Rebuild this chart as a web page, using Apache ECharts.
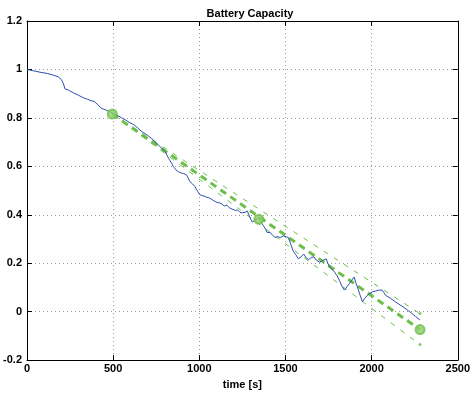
<!DOCTYPE html>
<html>
<head>
<meta charset="utf-8">
<script src="https://cdn.jsdelivr.net/npm/echarts@6/dist/echarts.min.js"></script>
<style>
  html, body { margin: 0; padding: 0; background: #fff; }
  #chart { width: 473px; height: 395px; }
</style>
</head>
<body>
<div id="chart"></div>
<script>
// measured capacity, [time s, capacity]
var capacity = [
  [0,1.0],[40,0.994],[80,0.988],[120,0.983],[150,0.977],[180,0.97],[200,0.958],[212,0.94],[220,0.92],
  [240,0.915],[270,0.903],[300,0.893],[324,0.884],[350,0.877],[372,0.871],[390,0.868],[401,0.864],
  [415,0.852],[430,0.84],[460,0.832],[487,0.823],[520,0.812],[550,0.8],[575,0.79],[592,0.782],
  [620,0.772],[645,0.757],[668,0.742],[690,0.733],[705,0.725],[725,0.714],[745,0.7],[764,0.687],
  [785,0.672],[802,0.66],[822,0.633],[840,0.612],[849,0.599],[865,0.585],[878,0.578],[895,0.572],
  [907,0.571],[926,0.565],[945,0.537],[960,0.528],[974,0.517],[990,0.497],[1002,0.483],[1015,0.48],
  [1031,0.476],[1045,0.472],[1060,0.469],[1075,0.462],[1088,0.456],[1100,0.452],[1117,0.449],
  [1130,0.445],[1145,0.436],[1160,0.44],[1174,0.429],[1183,0.429],[1195,0.422],[1210,0.418],
  [1222,0.42],[1236,0.41],[1250,0.408],[1265,0.41],[1279,0.415],[1293,0.39],[1307,0.37],[1318,0.374],
  [1330,0.38],[1346,0.388],[1358,0.37],[1372,0.355],[1385,0.34],[1393,0.327],[1402,0.33],[1412,0.327],
  [1425,0.315],[1441,0.306],[1455,0.31],[1470,0.306],[1489,0.313],[1505,0.309],[1517,0.306],
  [1530,0.28],[1545,0.25],[1560,0.235],[1575,0.218],[1590,0.226],[1606,0.238],[1620,0.222],
  [1635,0.215],[1650,0.224],[1665,0.226],[1680,0.212],[1699,0.204],[1718,0.212],[1737,0.218],
  [1746,0.2],[1756,0.184],[1770,0.175],[1785,0.163],[1800,0.148],[1813,0.129],[1828,0.105],
  [1842,0.089],[1856,0.102],[1871,0.116],[1885,0.13],[1899,0.143],[1908,0.12],[1918,0.102],
  [1932,0.07],[1947,0.041],[1960,0.055],[1976,0.068],[1990,0.075],[2004,0.082],[2023,0.085],
  [2042,0.089],[2061,0.089],[2070,0.08],[2080,0.068],[2110,0.055],[2137,0.041],[2165,0.028],
  [2194,0.014],[2215,0.003],[2233,-0.007],[2255,-0.02],[2280,-0.034]
];
// fitted trend and bounds
var fitCenter = [[495,0.816],[2281,-0.074]];
var fitUpper = [[495,0.816],[2281,-0.008]];
var fitLower = [[495,0.816],[2281,-0.136]];
var fitMarkers = [[495,0.816],[1346,0.381],[2281,-0.074]];
var boundEnds = [[2281,-0.008],[2281,-0.136]];

var xTicks = { min: 0, max: 2500, interval: 500 };
var yTicks = { min: -0.2, max: 1.2, interval: 0.2 };

var green = '#6cbf48';
var labelFont = { color: '#000', fontSize: 11, fontWeight: 'bold', fontFamily: 'Liberation Sans, Arial, sans-serif' };

var chart = echarts.init(document.getElementById('chart'));
chart.setOption({
  animation: false,
  backgroundColor: '#fff',
  title: {
    text: 'Battery Capacity',
    left: 245, top: 3, textAlign: 'center',
    textStyle: { fontSize: 11, fontWeight: 'bold', color: '#000', fontFamily: 'Liberation Sans, Arial, sans-serif' }
  },
  grid: { left: 27, right: 10, top: 21, bottom: 31 },
  xAxis: [{
    type: 'value', min: xTicks.min, max: xTicks.max, interval: xTicks.interval,
    name: 'time [s]', nameLocation: 'middle', nameGap: 17,
    nameTextStyle: labelFont,
    axisLine: { onZero: false, lineStyle: { color: '#000', width: 1 } },
    axisTick: { inside: true, length: 5, lineStyle: { color: '#000' } },
    axisLabel: Object.assign({ margin: 3, formatter: function (v) { return String(v); } }, labelFont),
    splitLine: { show: true, lineStyle: { color: '#999', type: [1, 3] } }
  }, {
    type: 'value', position: 'top', min: xTicks.min, max: xTicks.max, interval: xTicks.interval,
    axisLine: { onZero: false, lineStyle: { color: '#000' } },
    axisTick: { inside: true, length: 5, lineStyle: { color: '#000' } },
    axisLabel: { show: false }, splitLine: { show: false }
  }],
  yAxis: [{
    type: 'value', min: yTicks.min, max: yTicks.max, interval: yTicks.interval,
    axisLine: { show: true, onZero: false, lineStyle: { color: '#000', width: 1 } },
    axisTick: { show: true, inside: true, length: 5, lineStyle: { color: '#000' } },
    axisLabel: Object.assign({ margin: 5 }, labelFont),
    splitLine: { show: true, lineStyle: { color: '#999', type: [1, 3] } }
  }, {
    type: 'value', position: 'right', min: yTicks.min, max: yTicks.max, interval: yTicks.interval,
    axisLine: { show: true, onZero: false, lineStyle: { color: '#000' } },
    axisTick: { show: true, inside: true, length: 5, lineStyle: { color: '#000' } },
    axisLabel: { show: false }, splitLine: { show: false }
  }],
  series: [{
    type: 'line', data: capacity, showSymbol: false,
    lineStyle: { color: '#2e4fb0', width: 1 }, z: 3
  }, {
    type: 'line', data: fitUpper, showSymbol: false,
    lineStyle: { color: green, width: 1, type: [5, 7] }, z: 2
  }, {
    type: 'line', data: fitLower, showSymbol: false,
    lineStyle: { color: green, width: 1, type: [5, 7] }, z: 2
  }, {
    type: 'line', data: fitCenter, showSymbol: false,
    lineStyle: { color: green, width: 3, type: [7, 5] }, z: 2
  }, {
    type: 'scatter', data: fitMarkers, symbol: 'circle', symbolSize: 9,
    itemStyle: { color: '#8fd06c', borderColor: green, borderWidth: 2 }, z: 4
  }, {
    type: 'scatter', data: boundEnds, symbol: 'circle', symbolSize: 3,
    itemStyle: { color: green }, z: 4
  }]
});
</script>
</body>
</html>
